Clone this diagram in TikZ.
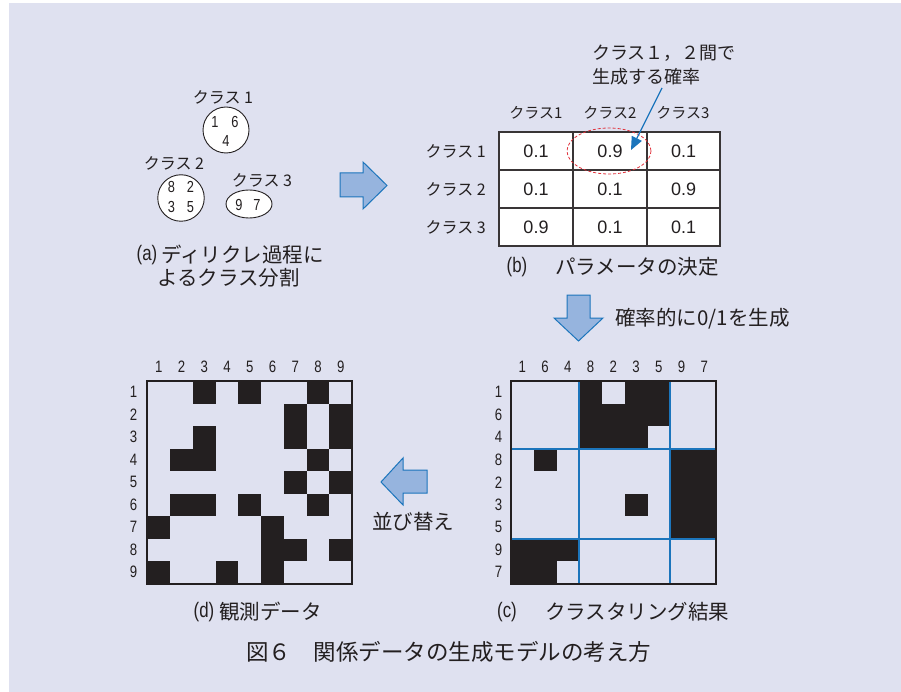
\documentclass[tikz,border=0pt]{standalone}
\usepackage{fontspec}
\setmainfont{Liberation Sans}
\newfontfamily\jp{Noto Sans CJK JP}
\newfontfamily\nar[FakeStretch=0.8]{Liberation Sans}
\usetikzlibrary{arrows.meta,shapes.geometric}
\definecolor{bg}{RGB}{223,225,240}
\definecolor{ink}{RGB}{35,31,32}
\definecolor{blu}{RGB}{28,117,188}
\definecolor{afill}{RGB}{150,180,222}
\definecolor{dred}{RGB}{225,50,60}
\newcommand\setfs[1]{\fontsize{#1}{#1}\selectfont}
\tikzset{
  txt/.style={inner sep=0pt, text=ink},
  jlab/.style={txt, font=\jp\setfs{16}},
  hdr/.style={txt, font=\jp\setfs{15}},
  captxt/.style={txt, font=\jp\setfs{20.5}},
  plab/.style={txt, font=\nar\setfs{21}},
  num/.style={txt, font=\setfs{18}},
  mlab/.style={txt, font=\nar\setfs{16.5}},
  cnum/.style={txt, font=\nar\setfs{16}},
  bubble/.style={draw=ink, line width=0.9, fill=white, inner sep=0pt},
  blockarrow/.style={draw=blu, line width=1, fill=afill},
  cell/.style={fill=ink},
  frame/.style={draw=ink, line width=2},
  sep/.style={draw=blu, line width=2},
}
\begin{document}
\begin{tikzpicture}[x=1pt,y=-1pt]
\useasboundingbox (0,0) rectangle (901,692);
\fill[bg] (9,3) rectangle (901,692);

% ---------- (a) ----------
\node[jlab] (k1) at (223,97) {クラス 1};
\node[bubble, circle, minimum size=46] (c1) at (226,130) {};
\node[cnum] (c1a) at (225,122) {1\hspace{13pt}6};
\node[cnum] (c1b) at (226,141) {4};
\node[jlab] (k2) at (174,163) {クラス 2};
\node[bubble, circle, minimum size=46.5] (c2) at (181,198) {};
\node[cnum] (c2a) at (181,187) {8\hspace{12pt}2};
\node[cnum] (c2b) at (181,207) {3\hspace{12pt}5};
\node[jlab] (k3) at (262,180) {クラス 3};
\node[bubble, ellipse, minimum width=46, minimum height=28] (c3) at (249,204) {};
\node[cnum] (c3a) at (248,205) {9\hspace{11pt}7};
\node[plab] (pa) at (147,255) {(a)};
\node[captxt, anchor=west] (capa1) at (161,255) {ディリクレ過程に};
\node[captxt, anchor=west] (capa2) at (157,278) {よるクラス分割};

% right block arrow
\draw[blockarrow] (340,173) -- (363,173) -- (363,162) -- (387,185.5) -- (363,209) -- (363,197) -- (340,197) -- cycle;

% ---------- (b) ----------
\node[txt, font=\jp\setfs{18}, anchor=west] (ann1) at (592,53) {クラス１，２間で};
\node[txt, font=\jp\setfs{18}, anchor=west] (ann2) at (592,77) {生成する確率};
\node[hdr] (h1) at (536,113) {クラス1};
\node[hdr] (h2) at (610,113) {クラス2};
\node[hdr] (h3) at (683,113) {クラス3};
\draw[draw=ink!90, line width=1.2, fill=white] (499,132) rectangle (720,246);
\draw[ink!90, line width=1.2] (573,132) -- (573,246) (647,132) -- (647,246)
  (499,170) -- (720,170) (499,208) -- (720,208);
\node[jlab, anchor=east] (r1) at (486,151) {クラス 1};
\node[jlab, anchor=east] (r2) at (486,189) {クラス 2};
\node[jlab, anchor=east] (r3) at (486,227) {クラス 3};
\node[num] (t11) at (536,151) {0.1};
\node[num] (t12) at (610,151) {0.9};
\node[num] (t13) at (683.5,151) {0.1};
\node[num] (t21) at (536,189) {0.1};
\node[num] (t22) at (610,189) {0.1};
\node[num] (t23) at (683.5,189) {0.9};
\node[num] (t31) at (536,227) {0.9};
\node[num] (t32) at (610,227) {0.1};
\node[num] (t33) at (683.5,227) {0.1};
\draw[dred, line width=0.8, dash pattern=on 3pt off 2pt] (609,151) ellipse [x radius=42, y radius=23];
\coordinate (annfoot) at (662,88);
\coordinate (annhead) at (631,150);
\draw[blu, line width=1.3, -{Triangle[length=13,width=11]}] (annfoot) -- (annhead);
\node[plab] (pb) at (517,267) {(b)};
\node[captxt, anchor=west] (capb) at (555,267) {パラメータの決定};

% down block arrow
\draw[blockarrow] (567,295) -- (590,295) -- (590,318) -- (603,318) -- (578.5,341) -- (554,318) -- (567,318) -- cycle;
\node[captxt, anchor=west] (gen) at (615,319) {確率的に0/1を生成};

% ---------- (d) observed ----------
\foreach \r/\c in {1/3,1/5,1/8, 2/7,2/9, 3/3,3/7,3/9, 4/2,4/3,4/8, 5/7,5/9,
  6/2,6/3,6/5,6/8, 7/1,7/6, 8/6,8/7,8/9, 9/1,9/4,9/6}
  \fill[cell] ({147.3+(\c-1)*22.75},{381+(\r-1)*22.5}) rectangle ++(22.75,22.5);
\draw[frame] (147.3,381) rectangle ++(204.75,202.5);
\foreach \l [count=\i] in {1,...,9} {
  \node[mlab] (dcol\i) at ({147.3+(\i-0.5)*22.75},366.7) {\l};
  \node[mlab] (drow\i) at (133.5,{381+(\i-0.5)*22.5}) {\l};
}
\node[plab] (pd) at (204,612) {(d)};
\node[captxt, anchor=west] (capd) at (219,612) {観測データ};

% left block arrow
\draw[blockarrow] (427,470) -- (403,470) -- (403,458) -- (381,482) -- (403,505) -- (403,493) -- (427,493) -- cycle;
\node[captxt] (sort) at (413,522) {並び替え};

% ---------- (c) clustered ----------
\foreach \r/\c in {1/4,1/6,1/7, 2/4,2/5,2/6,2/7, 3/4,3/5,3/6, 4/2,4/8,4/9,
  5/8,5/9, 6/6,6/8,6/9, 7/8,7/9, 8/1,8/2,8/3, 9/1,9/2}
  \fill[cell] ({511+(\c-1)*22.75},{381+(\r-1)*22.5}) rectangle ++(22.75,22.5);
\draw[sep] (579.25,381) -- (579.25,583.5) (670.25,381) -- (670.25,583.5)
  (511,448.5) -- (715.75,448.5) (511,538.5) -- (715.75,538.5);
\draw[frame] (511,381) rectangle ++(204.75,202.5);
\foreach \l [count=\i] in {1,6,4,8,2,3,5,9,7} {
  \node[mlab] (ccol\i) at ({511+(\i-0.5)*22.75},366.7) {\l};
  \node[mlab] (crow\i) at (498.5,{381+(\i-0.5)*22.5}) {\l};
}
\node[plab] (pc) at (507,612) {(c)};
\node[captxt, anchor=west] (capc) at (545,612) {クラスタリング結果};

% ---------- caption ----------
\node[txt, font=\jp\setfs{22.5}, anchor=west] (figcap) at (246,652) {図６　関係データの生成モデルの考え方};
\end{tikzpicture}
\end{document}
